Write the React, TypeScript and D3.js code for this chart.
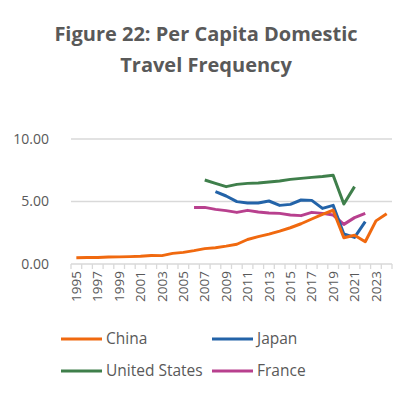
import React, { useEffect, useRef } from 'react';
import * as d3 from 'd3';

const years = d3.range(1995, 2025).map(String);

const china = [0.50, 0.52, 0.52, 0.56, 0.57, 0.59, 0.62, 0.68, 0.67, 0.85, 0.93, 1.07, 1.23, 1.30, 1.43, 1.58, 1.96, 2.19, 2.39, 2.63, 2.90, 3.22, 3.60, 3.97, 4.30, 2.10, 2.30, 1.78, 3.45, 4.02];
// series starting later than 1995
const usYears = d3.range(2007, 2022).map(String);
const us = [6.72, 6.45, 6.19, 6.37, 6.45, 6.48, 6.56, 6.64, 6.77, 6.85, 6.93, 7.0, 7.1, 4.8, 6.19];
const japanYears = d3.range(2008, 2023).map(String);
const japan = [5.79, 5.44, 4.99, 4.88, 4.88, 5.04, 4.69, 4.77, 5.12, 5.09, 4.45, 4.69, 2.40, 2.13, 3.39];
const franceYears = d3.range(2006, 2023).map(String);
const france = [4.53, 4.53, 4.37, 4.27, 4.13, 4.29, 4.16, 4.08, 4.05, 3.92, 3.87, 4.13, 4.05, 3.92, 3.17, 3.71, 4.05];

const yTicks = [0, 5, 10];

const App: React.FC = () => {
  const ref = useRef<SVGSVGElement>(null);

  useEffect(() => {
    if (!ref.current) return;
    const svg = d3.select(ref.current);
    svg.selectAll("*").remove();

    const width = 414, height = 398;
    const margin = { left: 71, right: 22, top: 139, bottom: 134 };
    const font = "'Open Sans', sans-serif";
    const grey = "#595959";

    svg.append("rect").attr("width", width).attr("height", height).attr("fill", "#fff");

    // titre
    const title = svg.append("text")
      .attr("x", 206)
      .attr("text-anchor", "middle")
      .attr("fill", grey)
      .style("font-family", font)
      .style("font-weight", "bold")
      .style("font-size", "20px");
    title.append("tspan").attr("x", 206).attr("y", 41).text("Figure 22: Per Capita Domestic");
    title.append("tspan").attr("x", 206).attr("y", 72).text("Travel Frequency");

    const x = d3.scaleBand<string>()
      .domain(years)
      .range([margin.left, width - margin.right]);

    const y = d3.scaleLinear()
      .domain([0, 10])
      .range([height - margin.bottom, margin.top]);

    // grille
    svg.append("g")
      .selectAll("line")
      .data(yTicks.filter(t => t > 0))
      .enter().append("line")
      .attr("x1", margin.left)
      .attr("x2", width - margin.right)
      .attr("y1", d => y(d))
      .attr("y2", d => y(d))
      .attr("stroke", "#d9d9d9")
      .attr("stroke-width", 1.3);

    svg.append("g")
      .selectAll("text")
      .data(yTicks)
      .enter().append("text")
      .attr("x", 49)
      .attr("y", d => y(d))
      .attr("dy", "0.35em")
      .attr("text-anchor", "end")
      .attr("fill", grey)
      .style("font-family", font)
      .style("font-size", "14px")
      .text(d => d.toFixed(2));

    // axe x
    const xAxis = svg.append("g")
      .attr("transform", `translate(0,${y(0)})`)
      .call(d3.axisBottom(x)
        .tickValues(years.filter((_, i) => i % 2 === 0))
        .tickSize(0)
        .tickPadding(0));
    xAxis.select(".domain").remove();
    xAxis.selectAll("text")
      .attr("transform", "rotate(-90)")
      .attr("x", -7)
      .attr("y", 0)
      .attr("dy", "0.35em")
      .style("text-anchor", "end")
      .style("font-family", font)
      .style("font-size", "13.5px")
      .attr("fill", grey);

    svg.append("line")
      .attr("x1", margin.left)
      .attr("x2", width - margin.right)
      .attr("y1", y(0))
      .attr("y2", y(0))
      .attr("stroke", "#d9d9d9")
      .attr("stroke-width", 1.3);
    svg.append("g")
      .selectAll("line")
      .data(d3.range(years.length + 1))
      .enter().append("line")
      .attr("x1", i => margin.left + i * x.step())
      .attr("x2", i => margin.left + i * x.step())
      .attr("y1", y(0))
      .attr("y2", y(0) + 5)
      .attr("stroke", "#d9d9d9")
      .attr("stroke-width", 1.3);

    const cx = (yr: string) => (x(yr) as number) + x.bandwidth() / 2;

    const series = [
      { name: "China", yrs: years, vals: china, color: "#f0690f" },
      { name: "Japan", yrs: japanYears, vals: japan, color: "#2363a8" },
      { name: "United States", yrs: usYears, vals: us, color: "#3f7f4b" },
      { name: "France", yrs: franceYears, vals: france, color: "#b8408e" },
    ];

    const line = d3.line<[string, number]>()
      .x(d => cx(d[0]))
      .y(d => y(d[1]));

    // ordre de dessin : France, Japon, USA, Chine au-dessus
    [series[3], series[1], series[2], series[0]].forEach(s => {
      svg.append("path")
        .datum(s.yrs.map((yr, i) => [yr, s.vals[i]] as [string, number]))
        .attr("fill", "none")
        .attr("stroke", s.color)
        .attr("stroke-width", 3)
        .attr("stroke-linejoin", "round")
        .attr("d", line);
    });

    // légende
    const legend = svg.append("g");
    series.forEach((s, i) => {
      const lx = i % 2 === 0 ? 61 : 212;
      const ly = i < 2 ? 339 : 371;
      legend.append("line")
        .attr("x1", lx).attr("x2", lx + 41)
        .attr("y1", ly).attr("y2", ly)
        .attr("stroke", s.color)
        .attr("stroke-width", 3);
      legend.append("text")
        .attr("x", lx + 45)
        .attr("y", ly)
        .attr("dy", "0.35em")
        .attr("fill", grey)
        .style("font-family", font)
        .style("font-size", "15.5px")
        .text(s.name);
    });
  }, []);

  return <svg ref={ref} width={414} height={398} style={{ display: 'block', margin: '-8px' }} />;
};

export default App;
